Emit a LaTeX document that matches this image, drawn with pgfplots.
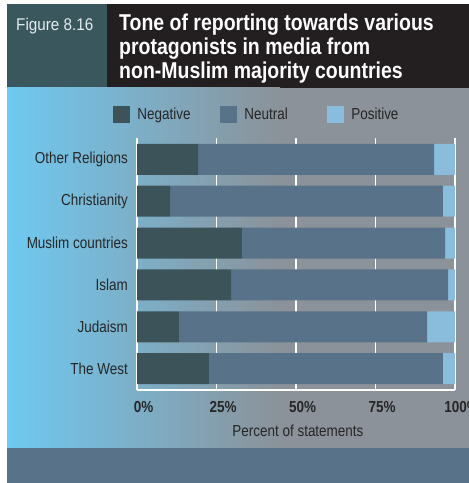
\documentclass[border=0pt]{standalone}
\usepackage{fontspec}
\setmainfont{Liberation Sans}[FakeStretch=0.845]
\newfontfamily\titlefont{Liberation Sans}[FakeStretch=0.85]
\newfontfamily\figfont{Liberation Sans}[FakeStretch=0.9]
\usepackage{pgfplots}
\pgfplotsset{compat=1.18}
\definecolor{negc}{HTML}{3B5359}
\definecolor{neuc}{HTML}{587389}
\definecolor{posc}{HTML}{8ABCDC}
\definecolor{hdrc}{HTML}{3A575E}
\definecolor{ttlc}{HTML}{231F20}
\definecolor{bgl}{HTML}{6FC9F1}
\definecolor{bgr}{HTML}{8B9299}
\definecolor{botc}{HTML}{587389}
\definecolor{txtc}{HTML}{262626}
\definecolor{figtext}{HTML}{E4ECEE}
\begin{document}
\begin{tikzpicture}[x=1bp,y=1bp]
\useasboundingbox (0,0) rectangle (469,483);
\clip (0,0) rectangle (469,483);
\fill[white] (0,0) rectangle (469,483);
\fill[hdrc] (7,395) rectangle (107,479);
\fill[ttlc] (107,395) rectangle (469,479);
\shade[left color=bgl, right color=bgr] (7,35) rectangle (280,395);
\fill[bgr] (279.5,35) rectangle (469,395);
\fill[botc] (7,0) rectangle (469,35);
\node[anchor=base west, text=figtext, font=\figfont\fontsize{17}{20}\selectfont, inner sep=0pt] at (16,452) {Figure 8.16};
\node[anchor=base west, text=white, font=\titlefont\bfseries\fontsize{23}{24}\selectfont, inner sep=0pt] at (119,452) {Tone of reporting towards various};
\node[anchor=base west, text=white, font=\titlefont\bfseries\fontsize{23}{24}\selectfont, inner sep=0pt] at (119,428) {protagonists in media from};
\node[anchor=base west, text=white, font=\titlefont\bfseries\fontsize{23}{24}\selectfont, inner sep=0pt] at (119,404) {non-Muslim majority countries};
\begin{axis}[
  at={(137bp,93bp)}, anchor=south west,
  scale only axis, width=318bp, height=252bp,
  xbar stacked, bar width=31bp,
  xmin=0, xmax=100, ymin=-0.51, ymax=5.51,
  axis x line*=bottom, axis y line*=left,
  axis line style={white, line width=1.6bp, -},
  xmajorgrids, major grid style={white, line width=1.6bp},
  major tick length=0pt,
  xtick={0,25,50,75,100},
  xticklabels={0\%,25\%,50\%,75\%,100\%},
  ytick={0,1,2,3,4,5},
  yticklabels={The West,Judaism,Islam,Muslim countries,Christianity,Other Religions},
  xticklabel style={font=\bfseries\fontsize{16}{19}\selectfont, text=txtc, inner sep=0pt, anchor=north, yshift=-11bp, xshift=6.5bp},
  yticklabel style={font=\fontsize{16}{19}\selectfont, text=txtc, inner sep=0pt, anchor=east, xshift=-9bp},
  xlabel={Percent of statements},
  xlabel style={at={(axis description cs:0.506,-0.163)}, anchor=center, font=\fontsize{16}{19}\selectfont, text=txtc, inner sep=0pt},
  legend style={at={(axis description cs:-0.075,1.095)}, anchor=west, draw=none, fill=none, inner sep=0pt,
    font=\fontsize{16}{19}\selectfont, text=txtc, legend columns=3,
    /tikz/every even column/.append style={column sep=0pt}},
  legend image code/.code={\fill[#1] (0bp,-8.5bp) rectangle (17bp,8.5bp);},
]
\addplot[fill=negc, draw=none] coordinates {(22.6,0) (13.2,1) (29.6,2) (33.0,3) (10.4,4) (19.2,5)};
\addlegendentry{\makebox[86bp][l]{\hspace*{5bp}Negative}}
\addplot[fill=neuc, draw=none] coordinates {(73.6,0) (78.0,1) (68.2,2) (63.9,3) (85.8,4) (74.2,5)};
\addlegendentry{\makebox[86bp][l]{\hspace*{5bp}Neutral}}
\addplot[fill=posc, draw=none] coordinates {(3.8,0) (8.8,1) (2.2,2) (3.1,3) (3.8,4) (6.6,5)};
\addlegendentry{\makebox[86bp][l]{\hspace*{5bp}Positive}}
\end{axis}
\end{tikzpicture}
\end{document}
